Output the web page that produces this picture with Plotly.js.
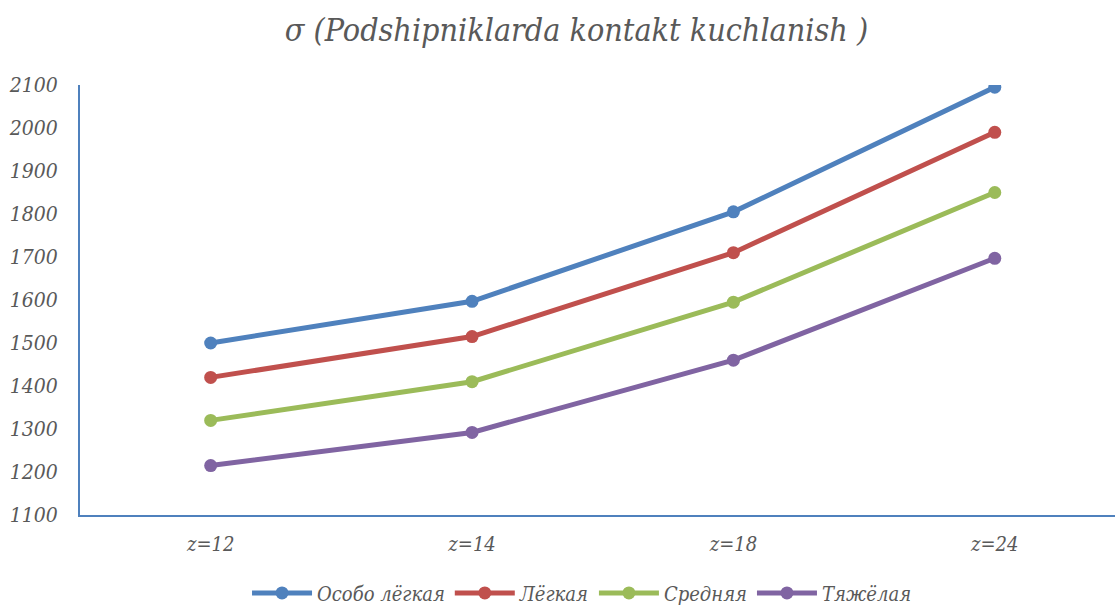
<!DOCTYPE html>
<html>
<head>
<meta charset="utf-8">
<script src="https://cdn.plot.ly/plotly-3.0.1.min.js"></script>
<style>html,body{margin:0;padding:0;background:#fff;}#chart{width:1115px;height:605px;}</style>
</head>
<body>
<div id="chart"></div>
<script>
const categories = ["z=12", "z=14", "z=18", "z=24"];
const seriesNames = ["Особо лёгкая", "Лёгкая", "Средняя", "Тяжёлая"];
const osoboLegkaya = [1500, 1597, 1805, 2095];
const legkaya = [1420, 1515, 1710, 1990];
const srednyaya = [1320, 1410, 1595, 1850];
const tyazhelaya = [1215, 1292, 1460, 1697];
const yTicks = [1100, 1200, 1300, 1400, 1500, 1600, 1700, 1800, 1900, 2000, 2100];
const titleText = "σ (Podshipniklarda kontakt kuchlanish )";

const colors = ["#4F81BD", "#C0504D", "#9BBB59", "#8064A2"];
const allSeries = [osoboLegkaya, legkaya, srednyaya, tyazhelaya];
const font = "DejaVu Serif Condensed, DejaVu Serif, serif";

const traces = allSeries.map((vals, i) => ({
  type: "scatter",
  mode: "lines+markers",
  x: categories,
  y: vals,
  name: seriesNames[i],
  line: {color: colors[i], width: 5},
  marker: {color: colors[i], size: 13}
}));

const layout = {
  width: 1115, height: 605,
  paper_bgcolor: "#fff", plot_bgcolor: "#fff",
  margin: {l: 80, r: 0, t: 85, b: 90},
  showlegend: true,
  font: {family: font, color: "#595959"},
  title: {
    text: "<i>" + titleText + "</i>",
    font: {family: font, size: 32, color: "#595959"},
    x: 0.517, xref: "container", xanchor: "center",
    y: 0.95, yref: "container", yanchor: "middle"
  },
  xaxis: {
    type: "category",
    range: [-0.5, 3.46],
    showgrid: false, zeroline: false,
    showline: true, linecolor: "#4F81BD", linewidth: 2,
    ticks: "", ticklabelstandoff: 10,
    tickfont: {family: font, size: 20, color: "#595959", style: "italic"}
  },
  yaxis: {
    range: [1100, 2100],
    tickvals: yTicks,
    ticktext: yTicks.map(String),
    showgrid: false, zeroline: false,
    showline: true, linecolor: "#4F81BD", linewidth: 2,
    ticks: "", ticklabelstandoff: 16,
    tickfont: {family: font, size: 21, color: "#595959", style: "italic"}
  },
  legend: {
    orientation: "h",
    x: 0.522, xref: "container", xanchor: "center",
    y: 0.02, yref: "container", yanchor: "middle",
    font: {family: font, size: 20, color: "#595959", style: "italic"},
    itemwidth: 60,
    tracegroupgap: 0
  }
};

Plotly.newPlot("chart", traces, layout, {displayModeBar: false, staticPlot: true});
</script>
</body>
</html>
